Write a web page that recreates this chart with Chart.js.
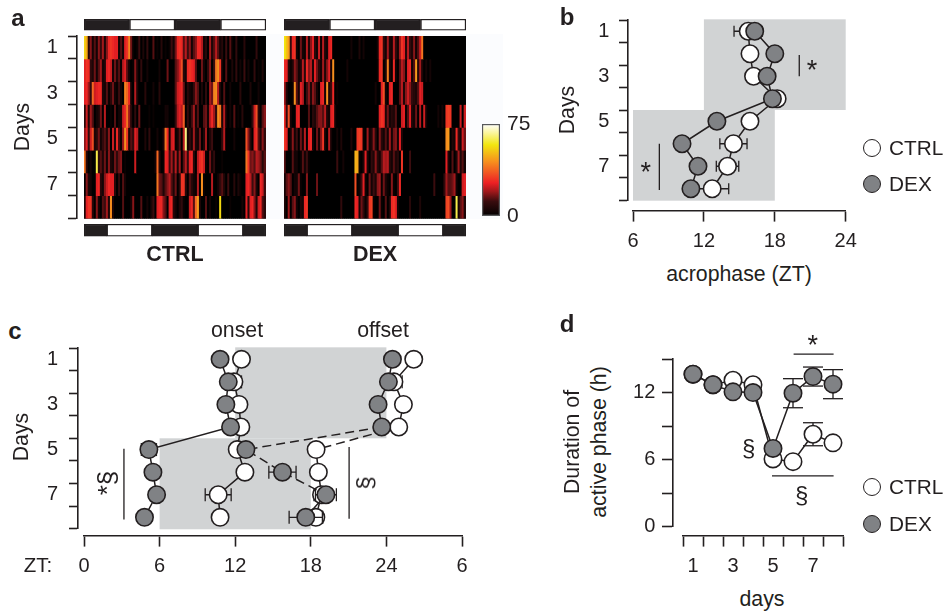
<!DOCTYPE html>
<html><head><meta charset="utf-8">
<script src="https://cdn.jsdelivr.net/npm/chart.js@4"></script>
<style>
html,body{margin:0;padding:0;background:#fff;width:944px;height:611px;overflow:hidden}
#page{position:relative;width:944px;height:611px;font-family:"Liberation Sans",Arial,sans-serif;color:#231f20}
canvas{position:absolute}
.t{position:absolute;white-space:nowrap;line-height:1;z-index:5}
.c{position:absolute;width:16px;height:16px;border-radius:50%;border:1.5px solid #231f20;z-index:5}
</style></head><body><div id="page"></div>
<script>
// ---------- data ----------
const days=[1,2,3,4,5,6,7,8];
const dayTicks=[0.5,1,1.5,2,2.5,3,3.5,4,4.5,5,5.5,6,6.5,7,7.5,8,8.5];
const dayLabels=[1,3,5,7];
const seriesNames=['CTRL','DEX'];

const heatCtrl=[
[55,48,8,18,4,14,4,18,10,20,6,18,28,30,28,26,26,4,14,4,26,30,42,16,2,0,2,12,0,6,0,10,0,0,14,0,2,0,8,0,2,0,2,12,4,16,28,30,28,14,22,12,18,4,14,18,28,28,22,4,8,0,20,6,14,22,14,4,8,0,12,0,14,2,0,10,0,0,0,8,0,0,0,0,0,10,0,0,0,0],
[26,30,28,10,6,16,4,14,20,4,6,26,28,24,4,16,6,14,2,22,26,14,4,0,2,18,6,0,10,0,0,4,0,0,0,0,0,4,0,0,0,16,0,0,0,14,18,24,34,8,4,28,30,28,26,14,0,0,16,4,0,10,18,0,12,40,44,30,4,0,14,0,0,6,0,10,0,4,0,12,0,4,0,0,10,0,2,0,6,0],
[26,28,20,10,38,24,26,28,28,6,4,14,2,8,16,4,2,12,4,0,42,38,28,4,0,22,6,0,0,0,8,0,0,0,4,0,0,8,0,0,0,0,0,0,0,14,24,26,28,16,0,8,4,2,10,18,14,0,6,0,10,0,20,16,42,44,22,6,0,14,0,0,4,0,0,0,0,8,0,0,0,0,6,0,0,0,4,0,0,0],
[8,24,6,20,14,0,4,6,16,0,22,0,0,2,0,14,0,4,4,24,28,40,20,8,0,10,0,16,0,0,0,0,2,0,2,0,0,0,0,0,4,4,0,0,0,10,22,26,22,36,0,10,2,12,20,4,14,0,0,14,16,4,22,28,20,10,44,40,6,22,4,0,4,0,14,0,2,0,8,0,0,0,0,10,24,34,8,0,14,18],
[18,26,10,24,34,6,8,16,4,10,14,6,18,0,24,6,28,12,2,20,44,30,6,14,10,26,22,0,0,0,6,0,10,0,0,0,4,0,0,6,40,28,4,24,26,2,4,14,0,22,66,4,10,4,20,6,4,16,0,6,20,0,6,12,0,0,0,0,10,22,0,0,0,0,4,0,0,0,0,0,34,18,8,0,26,30,14,6,18,10],
[40,8,0,4,0,0,62,8,14,6,16,4,18,6,4,16,10,16,18,0,2,0,0,0,0,24,0,0,0,0,0,0,0,0,0,4,38,8,0,2,28,26,12,20,8,22,6,20,0,14,22,10,26,28,8,0,22,28,30,24,2,0,16,4,10,0,0,0,2,0,0,0,0,0,0,0,0,0,0,0,40,30,16,18,14,22,20,16,8,14],
[0,18,6,4,0,0,26,28,8,4,18,24,28,26,26,8,0,10,0,14,4,0,0,0,0,0,0,0,0,0,0,0,0,0,0,0,40,16,14,6,14,18,22,14,6,16,0,8,30,30,8,0,14,8,4,2,22,0,44,2,0,0,0,22,0,0,4,10,14,6,0,12,0,0,8,0,6,2,0,0,26,28,22,12,18,6,0,28,24,12],
[6,26,30,30,8,0,18,4,0,14,12,20,6,44,6,0,0,0,0,14,0,0,0,4,18,0,0,0,14,0,0,4,0,6,12,0,26,28,28,18,14,0,26,28,8,4,0,6,10,2,0,0,24,28,14,38,46,6,0,0,14,0,4,0,0,2,0,56,0,0,0,0,2,0,0,0,0,0,4,0,26,8,26,28,18,6,24,28,14,8]
];
const heatDex=[
[58,52,46,10,28,30,4,0,16,4,2,22,6,18,26,8,4,24,2,22,6,4,26,28,0,0,0,0,0,0,0,0,0,4,0,0,0,6,0,4,0,0,0,0,0,0,4,28,30,10,4,20,6,4,22,10,4,20,30,26,8,22,10,6,18,4,14,24,40,0,0,0,0,0,0,0,0,0,0,0,0,0,0,0,0,0,0,0,0,0],
[28,26,8,2,6,18,14,4,6,22,8,28,18,22,6,26,16,8,4,20,6,18,26,4,44,0,0,0,0,0,0,4,0,0,0,0,0,0,0,0,0,0,0,0,0,0,2,28,30,0,6,42,6,2,28,4,0,14,22,18,4,26,28,4,14,46,8,20,6,0,4,0,4,0,0,0,0,0,0,0,0,0,0,0,0,0,0,0,0,0],
[20,6,0,0,2,44,14,4,26,22,0,12,18,6,18,14,4,0,26,28,4,44,6,12,28,0,2,0,0,0,0,0,0,0,0,0,0,0,0,0,0,0,0,0,0,4,0,0,26,34,4,0,26,28,0,0,0,14,22,6,18,24,18,10,8,6,14,26,24,0,0,0,0,0,0,0,0,0,0,0,0,0,0,0,0,0,0,0,0,0],
[28,10,34,4,0,0,26,28,0,0,0,0,14,0,8,6,14,18,18,14,22,6,4,26,28,4,0,0,0,0,0,0,0,0,0,0,0,0,0,0,0,0,0,0,0,0,0,26,30,28,6,16,4,8,6,14,0,0,24,26,2,14,26,6,4,16,0,22,0,24,4,0,0,0,0,0,4,0,4,0,30,32,30,0,0,0,0,24,0,24],
[30,26,0,4,18,4,12,0,16,4,22,0,26,28,4,0,16,4,18,30,4,0,22,4,0,0,4,0,6,0,0,0,0,6,0,0,30,32,30,2,0,20,4,6,18,8,0,18,8,4,14,4,20,4,16,18,4,26,6,0,0,0,0,0,0,0,0,0,0,0,0,0,0,0,0,0,0,0,0,0,44,46,0,6,4,28,10,4,24,16],
[14,0,0,0,14,4,4,0,2,14,4,12,2,0,0,0,0,0,0,0,0,0,0,0,0,0,12,0,0,4,0,0,0,0,0,50,48,2,0,6,26,6,0,10,6,18,8,4,14,22,20,22,8,4,14,6,8,0,30,0,0,0,12,0,0,0,0,0,0,0,0,0,0,0,0,0,0,0,0,0,26,6,0,14,0,6,20,6,14,4],
[4,14,18,14,0,4,4,16,2,0,0,18,0,0,0,0,16,0,0,0,0,0,0,0,0,0,0,0,0,0,0,0,0,0,0,34,0,2,12,26,4,0,16,4,12,6,18,20,2,16,6,2,0,18,2,0,12,28,0,0,0,0,0,0,0,0,0,0,0,0,0,0,0,0,12,0,0,0,0,10,20,14,14,16,20,4,0,0,24,26],
[6,0,20,0,14,18,4,0,6,4,28,30,0,0,0,0,0,0,0,0,0,0,0,0,0,0,0,0,10,0,0,0,0,0,0,28,26,4,16,10,2,10,30,32,2,0,0,16,2,0,14,0,6,28,30,26,4,0,0,0,0,0,8,0,0,0,0,6,0,0,0,0,0,0,0,0,0,0,0,0,32,34,20,0,0,62,4,14,18,6]
];
const heatStops=[[0,'#000000'],[12,'#3a0c0e'],[20,'#a0181b'],[27,'#ed2024'],[34,'#f04e23'],[45,'#f7941d'],[58,'#f2e60f'],[68,'#fbf6a0'],[75,'#ffffff']];
const phaseTop=[[0,12],[12,24],[24,36],[36,48]];
const phaseTopColors=['#231f20','#ffffff','#231f20','#ffffff'];
const phaseBottom=[[0,6],[6,18],[18,30],[30,42],[42,48]];
const phaseBottomColors=['#231f20','#ffffff','#231f20','#ffffff','#231f20'];

const bCtrl=[15.75,15.9,16.2,18.2,15.9,14.5,14.0,12.7];
const bCtrlErr=[1.2,0,0,0.4,0,1.15,0.95,1.4];
const bDex=[16.3,18.0,17.35,17.8,13.1,10.15,11.5,10.9];
const bShades=[[12,24,0.47,4.5],[6,18,4.5,8.53]];
const bBrackets=[[20.07,2.05,20.07,3.0],[8.23,6.0,8.23,8.05]];

const onsetCtrl=[12.5,11.9,12.3,12.45,12.16,12.77,10.65,10.8];
const onsetCtrlErr=[0,0.6,0,0.5,0,0,1.03,0];
const onsetDex=[10.8,11.45,11.26,11.63,5.15,5.47,5.76,4.8];
const onsetDexErr=[0,0,0,0,0.6,0.3,0.3,0];
const offsetCtrl=[26.17,24.6,25.35,24.98,18.42,18.6,18.85,18.4];
const offsetCtrlErr=[0.5,0.65,0,0,0,0,0.6,0.55];
const offsetDex=[24.48,24.16,23.34,23.63,12.85,15.75,19.2,17.6];
const offsetDexErr=[0,0,0,0,0,1.08,0.83,1.32];
const offsetCtrlDashed=[3];
const offsetDexDashed=[3,4,5];
const cShades=[[12,24,0.47,4.5],[6,18,4.5,8.53]];
const cBrackets=[[3.17,4.96,3.17,8.1],[21.04,4.88,21.04,8.06]];
const cTicks=[0,6,12,18,24,30];
const cTickLabels=['0','6','12','18','24','6'];

const dCtrl=[13.64,12.7,13.1,12.7,6.06,5.82,8.27,7.5];
const dCtrlErr=[0,0,0,0,0,0,1.03,0];
const dDex=[13.64,12.7,12.06,12.0,7.0,11.94,13.43,12.75];
const dDexErr=[0,0,0,0,0,1.3,0.85,1.3];
const dBrackets=[[6.03,15.43,8.03,15.43],[4.95,4.55,8.03,4.55]];
const bTicks=[6,12,18,24];
const dTicks=[0,3,6,9,12,15];
const dTickLabels=['0','','6','','12',''];

// ---------- helpers ----------
const INK='#231f20', GREY='#808285', SHADE='#d1d3d4', FONT='"Liberation Sans",Arial,sans-serif', TICK=20;
const page=document.getElementById('page');
function rgb(h){return [1,3,5].map(i=>parseInt(h.substr(i,2),16));}
function colorFor(v){
  for(let i=1;i<heatStops.length;i++){
    if(v<=heatStops[i][0]){
      const [a,ca]=heatStops[i-1],[b,cb]=heatStops[i],f=(v-a)/(b-a),A=rgb(ca),B=rgb(cb);
      return 'rgb('+A.map((x,k)=>Math.round(x+(B[k]-x)*f)).join(',')+')';
    }
  }
  return '#ffffff';
}
function text(s,cx,cy,o={}){
  const d=document.createElement('div');d.className='t';d.textContent=s;
  d.style.left=cx+'px';d.style.top=cy+'px';
  d.style.fontSize=(o.size||21.3)+'px';if(o.bold)d.style.fontWeight='bold';
  d.style.transform='translate(-50%,-50%)'+(o.rot?' rotate('+o.rot+'deg)':'');
  page.appendChild(d);
}
function makeChart(plot,config,m=60){
  const c=document.createElement('canvas');
  const x=plot.l-m,y=plot.t-m,w=plot.r-plot.l+2*m,h=plot.b-plot.t+2*m;
  c.width=Math.ceil(w);c.height=Math.ceil(h);
  c.style.left=x+'px';c.style.top=y+'px';c.style.width=c.width+'px';c.style.height=c.height+'px';
  page.appendChild(c);
  config.options=Object.assign({responsive:false,animation:false,devicePixelRatio:1,events:[],
    layout:{padding:{left:m,top:m,right:c.width-m-(plot.r-plot.l),bottom:c.height-m-(plot.b-plot.t)}},
    plugins:{legend:{display:false},tooltip:{enabled:false}}},config.options);
  return new Chart(c,config);
}
const zero=s=>{if(s.isHorizontal())s.height=0;else s.width=0;};
function axis(o){
  const tv=o.tickValues,major=o.isMajor||(()=>true);
  return {type:'linear',min:o.min,max:o.max,reverse:!!o.reverse,position:o.position,afterFit:zero,
    afterBuildTicks:s=>{s.ticks=tv.map(v=>({value:v}));},
    border:{display:true,color:INK,width:1.6},
    grid:{drawOnChartArea:false,drawTicks:true,tickLength:o.tickLength,tickWidth:1.6,
      tickColor:c=>major(c.tick?c.tick.value:0)?INK:'rgba(0,0,0,0)'},
    ticks:{display:!!o.label,autoSkip:false,maxRotation:0,minRotation:0,padding:o.padding,color:INK,font:{family:FONT,size:TICK},callback:o.label}};
}
// the y axis line with its marks, without labels
const dayMarks=(pos,reverse=true)=>axis({min:0.5,max:8.5,tickValues:dayTicks,position:pos,tickLength:8,reverse,isMajor:v=>!Number.isInteger(v)});
const dayText=v=>dayLabels.includes(v)?String(v):'';
// a bare scale that only carries tick labels, further away from the plot than the axis line
function labelAxis(o){
  return {axis:'y',type:'linear',min:o.min,max:o.max,reverse:!!o.reverse,position:o.position,afterFit:zero,
    afterBuildTicks:s=>{s.ticks=o.tickValues.map(v=>({value:v}));},
    border:{display:false},grid:{display:false,drawTicks:false},
    ticks:{autoSkip:false,padding:0,color:INK,font:{family:FONT,size:TICK},callback:o.label}};
}
const dayLabelAxis=pos=>labelAxis({min:0.5,max:8.5,reverse:true,position:pos,tickValues:dayTicks,label:dayText});
function series(name,xs,ys,fill,o={}){
  return Object.assign({label:name,data:xs.map((x,i)=>({x,y:ys[i]})),showLine:true,clip:false,borderColor:INK,borderWidth:1.5,
    pointRadius:8.7,pointBackgroundColor:fill,pointBorderColor:INK,pointBorderWidth:1.6},o);
}
function errs(xs,ys,ex,ey,cap){
  const data=[];
  xs.forEach((x,i)=>{
    const e=(ex||ey)[i];
    if(!e)return;
    if(ex){data.push({x:x-e,y:ys[i]},{x:x+e,y:ys[i]},{x:null,y:null});}
    else{data.push({x,y:ys[i]-e},{x,y:ys[i]+e},{x:null,y:null});}
  });
  return {label:'error',data,showLine:true,spanGaps:false,clip:false,borderColor:INK,borderWidth:1.3,
    pointStyle:'line',pointRadius:cap,pointRotation:ex?90:0,pointBorderColor:INK,pointBorderWidth:1.3};
}
function brackets(list){
  const data=[];
  list.forEach(b=>data.push({x:b[0],y:b[1]},{x:b[2],y:b[3]},{x:null,y:null}));
  return {label:'bracket',data,showLine:true,spanGaps:false,clip:false,borderColor:INK,borderWidth:1.3,pointRadius:0};
}
function ordered(list){list.forEach((d,i)=>d.order=list.length-i);return list;} // later = on top
const shadePlugin=list=>({id:'shade',beforeDatasetsDraw(ch){
  const {x,y}=ch.scales,g=ch.ctx;g.save();g.fillStyle=SHADE;
  list.forEach(r=>{const a=x.getPixelForValue(r[0]),b=x.getPixelForValue(r[1]),t=y.getPixelForValue(r[2]),u=y.getPixelForValue(r[3]);g.fillRect(a,t,b-a,u-t);});
  g.restore();}});
const blackArea={id:'blackArea',beforeDatasetsDraw(ch){const a=ch.chartArea,g=ch.ctx;g.save();g.fillStyle='#000';g.fillRect(a.left,a.top,a.right-a.left,a.bottom-a.top);g.restore();}};

// ---------- panel a ----------
const tint=document.createElement('div');
tint.style.cssText='position:absolute;left:84px;top:34px;width:419px;height:185px;background:#fbfcfe';
page.appendChild(tint);
function heat(rows,left,withAxis){
  const bins=rows[0].map((_,i)=>i);
  const plot={l:left,t:35.7,r:left+182,b:218.3};
  const scales={x:{display:false},y:{display:false,min:0.5,max:8.5,reverse:true}};
  if(withAxis){scales.y=dayMarks({x:-3.96});scales.yl=dayLabelAxis({x:-13.36});}
  makeChart(plot,{type:'bar',data:{labels:bins,datasets:rows.map((row,d)=>({
      label:'Day '+days[d],data:row.map(()=>[days[d]-0.5,days[d]+0.5]),backgroundColor:row.map(colorFor),
      borderWidth:0,barPercentage:1,categoryPercentage:1,grouped:false}))},
    options:{scales},plugins:[blackArea]});
  [[18.5,30,phaseTop,phaseTopColors],[223.5,236,phaseBottom,phaseBottomColors]].forEach(([t,b,segs,cols])=>{
    makeChart({l:left,t,r:left+182,b},{type:'bar',data:{labels:['phase'],datasets:segs.map((s,i)=>({
        label:'phase '+i,data:[s],backgroundColor:cols[i],borderColor:INK,borderWidth:1.5,borderSkipped:false,
        barPercentage:1,categoryPercentage:1,grouped:false}))},
      options:{indexAxis:'y',scales:{x:{display:false,min:0,max:48},y:{display:false}}}},6);
  });
}
heat(heatCtrl,84,true);
heat(heatDex,284,false);
makeChart({l:482,t:124,r:500,b:216},{type:'bar',data:{labels:['scale'],datasets:[{label:'scale',data:[[0,75]],
    borderColor:'#58595b',borderWidth:1.5,borderSkipped:false,barPercentage:1,categoryPercentage:1,
    backgroundColor:c=>{
      const a=c.chart.chartArea;if(!a)return '#000';
      const g=c.chart.ctx.createLinearGradient(0,a.bottom,0,a.top);
      heatStops.forEach(s=>g.addColorStop(s[0]/75,s[1]));return g;}}]},
  options:{layout:{padding:{left:60,top:60,right:20,bottom:60}},
    scales:{x:{display:false},y:{min:0,max:75,position:'right',afterFit:s=>{s.width=40;},
    afterBuildTicks:s=>{s.ticks=[{value:0},{value:75}];},
    border:{display:false},grid:{display:false,drawTicks:false},
    ticks:{padding:7,color:INK,font:{family:FONT,size:21},autoSkip:false,callback:v=>String(v)}}}}});

// ---------- panel b ----------
makeChart({l:633,t:19.5,r:845.7,b:199.5},{type:'scatter',data:{datasets:ordered([
    errs(bCtrl,days,bCtrlErr,null,5.5),
    series(seriesNames[0],bCtrl,days,'#ffffff'),
    series(seriesNames[1],bDex,days,GREY),
    brackets(bBrackets)])},
  options:{scales:{
    x:axis({min:6,max:24,tickValues:bTicks,position:{y:8.97},tickLength:10,padding:9,label:v=>String(v)}),
    y:dayMarks({x:5.55}),
    yl:dayLabelAxis({x:4.01})}},
  plugins:[shadePlugin(bShades)]});

// ---------- panel c ----------
const dashSeg=list=>({borderDash:c=>list.includes(c.p0DataIndex)?[9,5]:undefined});
makeChart({l:84,t:347.7,r:462,b:528.3},{type:'scatter',data:{datasets:ordered([
    errs(onsetCtrl,days,onsetCtrlErr,null,6.5),
    errs(offsetCtrl,days,offsetCtrlErr,null,6.5),
    series(seriesNames[0],onsetCtrl,days,'#ffffff'),
    series(seriesNames[0],offsetCtrl,days,'#ffffff',{segment:dashSeg(offsetCtrlDashed)}),
    errs(onsetDex,days,onsetDexErr,null,6.5),
    errs(offsetDex,days,offsetDexErr,null,6.5),
    series(seriesNames[1],onsetDex,days,GREY),
    series(seriesNames[1],offsetDex,days,GREY,{segment:dashSeg(offsetDexDashed)}),
    brackets(cBrackets)])},
  options:{scales:{
    x:axis({min:0,max:30,tickValues:cTicks,position:{y:8.8},tickLength:10,padding:9,label:(v,i)=>cTickLabels[i]}),
    y:dayMarks({x:-0.48}),
    yl:dayLabelAxis({x:-2.06})}},
  plugins:[shadePlugin(cShades)]});

// ---------- panel d ----------
makeChart({l:682.7,t:359,r:842.7,b:526.7},{type:'scatter',data:{datasets:ordered([
    errs(days,dCtrl,null,dCtrlErr,10),
    series(seriesNames[0],days,dCtrl,'#ffffff'),
    errs(days,dDex,null,dDexErr,10),
    series(seriesNames[1],days,dDex,GREY),
    brackets(dBrackets)])},
  options:{scales:{
    x:axis({min:0.5,max:8.5,tickValues:dayTicks,position:{y:-0.8},tickLength:10,padding:9,
      isMajor:v=>!Number.isInteger(v),label:dayText}),
    y:axis({min:0,max:15,tickValues:dTicks,position:{x:0},tickLength:10}),
    yl:labelAxis({min:0,max:15,tickValues:dTicks,position:{x:-0.885},label:(v,i)=>dTickLabels[i]})}}});

// ---------- text ----------
[['a',18,18],['b',567,17],['c',15,331],['d',567,324]].forEach(([s,x,y])=>text(s,x,y,{size:24,bold:true}));
text('CTRL',175,255,{size:21.5,bold:true});
text('DEX',375,255,{size:21.5,bold:true});
text('Days',23,127,{rot:-90});text('Days',568,110,{rot:-90});text('Days',22,437,{rot:-90});
text('acrophase (ZT)',739,275);
text('onset',237,331);text('offset',383,331);text('ZT:',38,565,{size:20.5});
text('Duration of',573,442,{rot:-90});text('active phase (h)',600,442,{rot:-90});
text('days',762,600);
text('*',812,70,{size:27});text('*',645.7,172,{size:27});text('*',812.7,345,{size:27});
text('§',748.7,448,{size:24});text('§',801.7,495,{size:24});
text('*§',106.7,483,{size:26,rot:-90});text('§',365,483,{size:24,rot:-90});
// legends
[[148,184.7],[487.3,524]].forEach(([a,b])=>{
  [[a,'#ffffff','CTRL'],[b,GREY,'DEX']].forEach(([y,f,s])=>{
    const c=document.createElement('div');c.className='c';c.style.left=(872-9.5)+'px';c.style.top=(y-9.5)+'px';c.style.background=f;page.appendChild(c);
    const t=document.createElement('div');t.className='t';t.textContent=s;t.style.left='889px';t.style.top=(y-10.5)+'px';t.style.fontSize='20.8px';page.appendChild(t);
  });
});
</script></body></html>
